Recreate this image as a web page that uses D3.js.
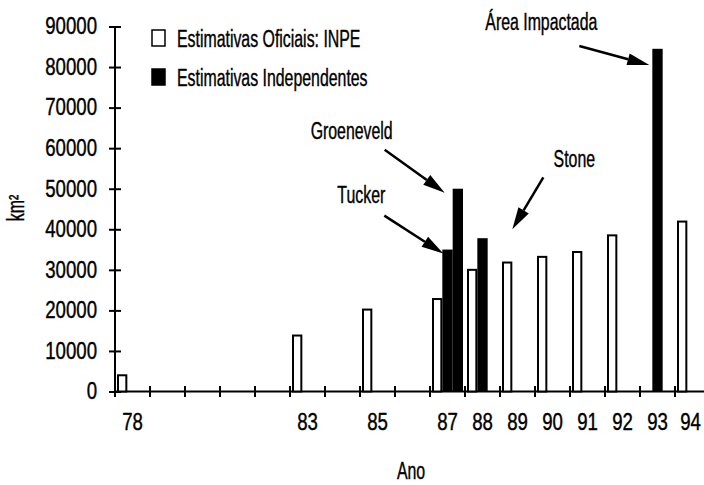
<!DOCTYPE html>
<html>
<head>
<meta charset="utf-8">
<script src="https://cdn.jsdelivr.net/npm/d3@7/dist/d3.min.js"></script>
<style>
  body { margin: 0; background: #fff; }
  svg { display: block; }
  text { font-family: "Liberation Sans", Arial, sans-serif; fill: #000; stroke: #000; stroke-width: 0.4px; }
</style>
</head>
<body>
<svg id="chart"></svg>
<script>
// data
var years = ["78","79","80","81","82","83","84","85","86","87","88","89","90","91","92","93","94"];
var tickYears = ["78","83","85","87","88","89","90","91","92","93","94"];
var yTicks = [0,10000,20000,30000,40000,50000,60000,70000,80000,90000];

var inpeYears  = ["78","83","85","87","88","89","90","91","92","94"];
var inpeValues = [4000, 13800, 20200, 22800, 30000, 31800, 33200, 34400, 38500, 41900];

var indepYears  = ["87","87","88","93"];
var indepSlots  = [1, 2, 1, 1];
var indepValues = [35000, 50000, 37800, 84500];

var legendLabels = ["Estimativas Oficiais: INPE", "Estimativas Independentes"];

var annLabels = ["Groeneveld", "Tucker", "Stone", "Área Impactada"];
var annYears  = ["87", "87", "89", "93"];
var annSlots  = [2, 1, 1, 1];
var annValues = [49000, 34000, 40000, 80500];

var W = 704, H = 485,
  LEFT = 115, RIGHT_END = 710,
  TOP = 26.5, BASE = 391.5,
  FONT = 23,
  SQUEEZE_NUM = 0.81,   // the original face is a condensed one
  SQUEEZE_TXT = 0.69;

var svg = d3.select('#chart')
  .attr('width', W)
  .attr('height', H);

var x = d3.scaleBand()
  .domain(years)
  .range([LEFT, RIGHT_END])
  .padding(0);

var slot = d3.scaleBand()
  .domain([0, 1, 2])
  .range([2, 33])
  .padding(0);

var y = d3.scaleLinear()
  .domain([0, 90000])
  .range([BASE, TOP]);

// y axis
var yAxis = svg.append('g')
  .attr('transform', 'translate(' + LEFT + ',0)')
  .call(d3.axisLeft(y).tickValues(yTicks).tickSizeOuter(0).tickSizeInner(6).tickPadding(12).tickFormat(d3.format('d')));

yAxis.select('.domain').attr('stroke-width', 2).attr('d', 'M0,' + TOP + 'V' + BASE);
yAxis.selectAll('.tick line').attr('x1', -6).attr('x2', 6).attr('stroke-width', 2);
yAxis.selectAll('.tick text')
  .attr('class', 'num')
  .style('font-size', FONT + 'px')
  .style('font-family', null);

// x axis, drawn by hand: ticks sit on the band edges, labels in the middle
var xAxis = svg.append('g');

xAxis.append('line')
  .attr('x1', LEFT)
  .attr('x2', W)
  .attr('y1', y(0))
  .attr('y2', y(0))
  .attr('stroke', '#000')
  .attr('stroke-width', 2);

xAxis.selectAll('.xtick')
  .data(years)
  .enter()
  .append('line')
  .attr('class', 'xtick')
  .attr('x1', function(d) { return x(d); })
  .attr('x2', function(d) { return x(d); })
  .attr('y1', y(0) - 5.5)
  .attr('y2', y(0) + 5.5)
  .attr('stroke', '#000')
  .attr('stroke-width', 2);

xAxis.selectAll('.xlabel')
  .data(tickYears)
  .enter()
  .append('text')
  .attr('class', 'num')
  .attr('x', function(d) { return x(d) + x.bandwidth() / 2 - (d === '94' ? 2 : 0); })
  .attr('y', 430)
  .attr('text-anchor', 'middle')
  .style('font-size', FONT + 'px')
  .text(function(d) { return d; });

// bars
svg.selectAll('.inpe')
  .data(inpeYears)
  .enter()
  .append('rect')
  .attr('class', 'inpe')
  .attr('x', function(d) { return x(d) + slot(0) + 1; })
  .attr('y', function(d, i) { return y(inpeValues[i]); })
  .attr('width', slot.bandwidth() - 2)
  .attr('height', function(d, i) { return y(0) - y(inpeValues[i]); })
  .attr('fill', '#fff')
  .attr('stroke', '#000')
  .attr('stroke-width', 2);

svg.selectAll('.indep')
  .data(indepYears)
  .enter()
  .append('rect')
  .attr('class', 'indep')
  .attr('x', function(d, i) { return x(d) + slot(indepSlots[i]); })
  .attr('y', function(d, i) { return y(indepValues[i]); })
  .attr('width', slot.bandwidth())
  .attr('height', function(d, i) { return y(0) - y(indepValues[i]); })
  .attr('fill', '#000');

// legend
var legend = svg.append('g').attr('transform', 'translate(152,30)');

legend.selectAll('rect')
  .data(legendLabels)
  .enter()
  .append('rect')
  .attr('x', 0)
  .attr('y', function(d, i) { return i * 39; })
  .attr('width', 13)
  .attr('height', 16)
  .attr('fill', function(d, i) { return i ? '#000' : '#fff'; })
  .attr('stroke', '#000')
  .attr('stroke-width', 1.5);

legend.selectAll('text')
  .data(legendLabels)
  .enter()
  .append('text')
  .attr('class', 'txt')
  .attr('x', 25)
  .attr('y', function(d, i) { return 16.5 + i * 39; })
  .style('font-size', FONT + 'px')
  .text(function(d) { return d; });

// annotations: arrow from (tip + start offset) to the tip, label above the start
var annStartDx = [-60, -59, 31, -70];
var annStartDy = [-43, -38, -52, -19];
var annTextDx  = [-33, -23, 31, -38];
var annTextDy  = [-11, -13, -10, -16];
var annTipDx   = [-8, 1, 0, -3];

var arrowG = svg.append('g');

annLabels.forEach(function(label, i) {
  var tx = x(annYears[i]) + slot(annSlots[i]) + annTipDx[i],
    ty = y(annValues[i]),
    sx = tx + annStartDx[i],
    sy = ty + annStartDy[i];
  var ang = Math.atan2(ty - sy, tx - sx),
    headLen = 22, headW = 6;
  var bx = tx - headLen * Math.cos(ang),
    by = ty - headLen * Math.sin(ang);

  arrowG.append('line')
    .attr('x1', sx).attr('y1', sy)
    .attr('x2', bx).attr('y2', by)
    .attr('stroke', '#000')
    .attr('stroke-width', 2.5);

  arrowG.append('path')
    .attr('d', 'M' + tx + ',' + ty +
      'L' + (bx + headW * Math.sin(ang)) + ',' + (by - headW * Math.cos(ang)) +
      'L' + (bx - headW * Math.sin(ang)) + ',' + (by + headW * Math.cos(ang)) + 'Z')
    .attr('fill', '#000');

  arrowG.append('text')
    .attr('class', 'txt')
    .attr('x', sx + annTextDx[i])
    .attr('y', sy + annTextDy[i])
    .attr('text-anchor', 'middle')
    .style('font-size', FONT + 'px')
    .text(label);
});

// axis titles
svg.append('text')
  .attr('class', 'txt')
  .attr('transform', 'translate(24,208) rotate(-90)')
  .attr('text-anchor', 'middle')
  .style('font-size', FONT + 'px')
  .text('km²');

svg.append('text')
  .attr('class', 'txt')
  .attr('x', 411)
  .attr('y', 479)
  .attr('text-anchor', 'middle')
  .style('font-size', FONT + 'px')
  .text('Ano');

function squeeze(sel, k) {
  sel.each(function() {
    var w = this.getComputedTextLength();
    d3.select(this)
      .attr('textLength', w * k)
      .attr('lengthAdjust', 'spacingAndGlyphs');
  });
}
squeeze(svg.selectAll('text.num'), SQUEEZE_NUM);
squeeze(svg.selectAll('text.txt'), SQUEEZE_TXT);
</script>
</body>
</html>
